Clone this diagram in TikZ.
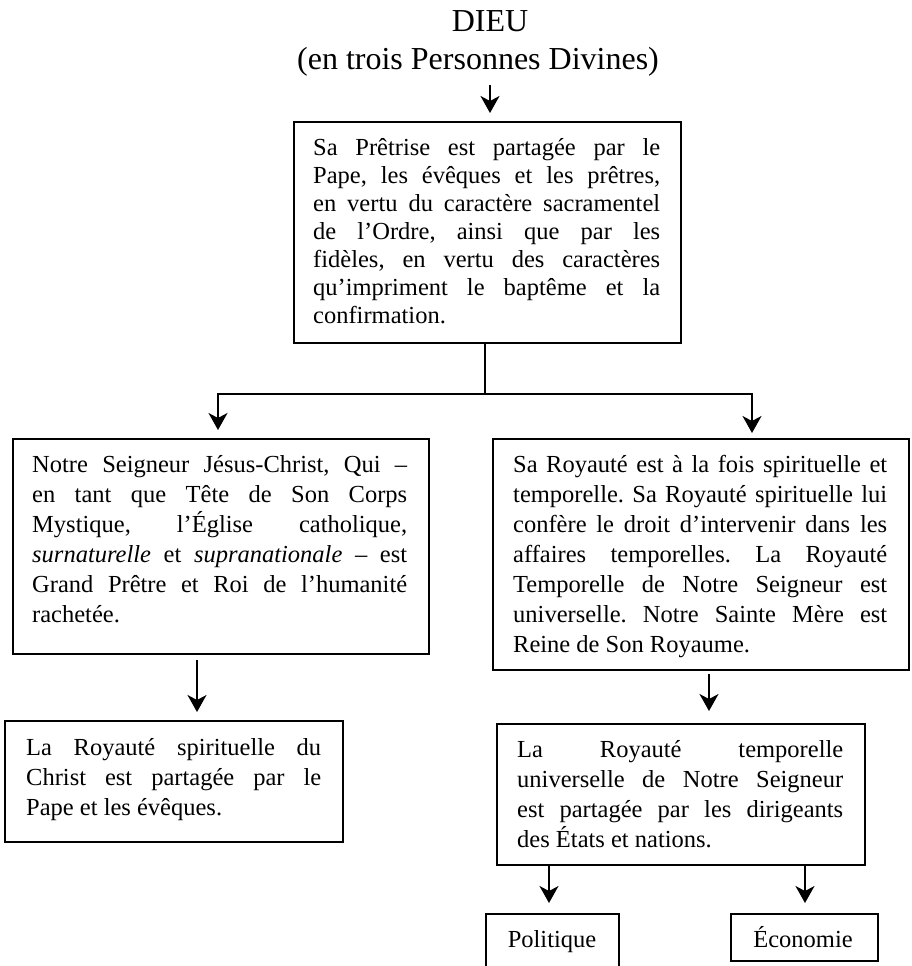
\documentclass[tikz,border=0pt]{standalone}
\usepackage{fontspec}
\setmainfont{Liberation Serif}
\usetikzlibrary{arrows.meta}
\frenchspacing
\newcommand{\bodyfont}{\fontsize{24.5}{30}\selectfont\frenchspacing\hyphenpenalty=10000\tolerance=9999\emergencystretch=0pt}
\tikzset{
 boxnode/.style={draw, line width=2pt, inner sep=0pt, anchor=north west},
 txt/.style={inner sep=0pt, anchor=north west, align=justify, font=\bodyfont},
 title/.style={inner sep=0pt, anchor=base, font=\fontsize{32}{38}\selectfont},
 leaf/.style={inner sep=0pt, anchor=base, font=\bodyfont},
 arr/.style={line width=1.8pt, -{Stealth[length=17pt,width=19pt,inset=5pt]}},
 ln/.style={line width=1.8pt}
}
\begin{document}
\begin{tikzpicture}[x=1pt,y=-1pt]
\useasboundingbox (0,0) rectangle (912,966);
\clip (0,0) rectangle (912,966);
% titles
\node[title] (dieu) at (490,32) {DIEU};
\node[title] (sub) at (478,70) {(en trois Personnes Divines)};
% boxes
\node[boxnode, minimum width=387pt, minimum height=221pt] (top) at (293,121) {};
\node[boxnode, minimum width=416pt, minimum height=215pt] (left) at (12,438) {};
\node[boxnode, minimum width=416pt, minimum height=231pt] (right) at (492,438) {};
\node[boxnode, minimum width=338pt, minimum height=121pt] (botl) at (4,720) {};
\node[boxnode, minimum width=368pt, minimum height=141pt] (botr) at (496,723) {};
\node[boxnode, minimum width=133pt, minimum height=70pt] (pol) at (485,913) {};
\node[boxnode, minimum width=147pt, minimum height=47pt] (eco) at (730,913) {};
% texts
\node[txt, text width=347pt, font=\fontsize{24.5}{28}\selectfont] (toptxt) at (313,138)
 {Sa Prêtrise est partagée par le\linebreak Pape, les évêques et les prêtres,\linebreak en vertu du caractère sacramentel\linebreak de l’Ordre, ainsi que par les\linebreak fidèles, en vertu des caractères\linebreak qu’impriment le baptême et la\linebreak confirmation.};
\node[txt, text width=375pt] (lefttxt) at (32,455)
 {Notre Seigneur Jésus-Christ, Qui –\linebreak en tant que Tête de Son Corps\linebreak Mystique, l’Église catholique,\linebreak \textit{surnaturelle} et \textit{supranationale} – est\linebreak Grand Prêtre et Roi de l’humanité\linebreak rachetée.};
\node[txt, text width=374pt] (righttxt) at (513,455)
 {Sa Royauté est à la fois spirituelle et\linebreak temporelle. Sa Royauté spirituelle lui\linebreak confère le droit d’intervenir dans les\linebreak affaires temporelles. La Royauté\linebreak Temporelle de Notre Seigneur est\linebreak universelle. Notre Sainte Mère est\linebreak Reine de Son Royaume.};
\node[txt, text width=295pt] (botltxt) at (26,738)
 {La Royauté spirituelle du\linebreak Christ est partagée par le\linebreak Pape et les évêques.};
\node[txt, text width=326pt] (botrtxt) at (517,740)
 {La Royauté temporelle\linebreak universelle de Notre Seigneur\linebreak est partagée par les dirigeants\linebreak des États et nations.};
\node[leaf] (poltxt) at (552,947) {Politique};
\node[leaf] (ecotxt) at (803,947) {Économie};
% connectors
\coordinate (a0) at (490,85);
\draw[arr, shorten >=8pt] (a0) -- (a0 |- top.north);
\coordinate (j) at (485,394);
\coordinate (jl) at (218,394);
\coordinate (jr) at (752,394);
\draw[ln] (top.south -| j) -- (j);
\draw[arr, shorten >=8pt] (j) -| (jl |- left.north);
\draw[arr, shorten >=5pt] (j) -| (jr |- right.north);
\coordinate (b1) at (197,0);
\draw[arr, shorten <=5pt, shorten >=8pt] (b1 |- left.south) -- (b1 |- botl.north);
\coordinate (b2) at (709,0);
\draw[arr, shorten <=3pt, shorten >=12pt] (b2 |- right.south) -- (b2 |- botr.north);
\coordinate (c1) at (549,0);
\coordinate (c2) at (805,0);
\draw[arr, shorten >=10pt] (c1 |- botr.south) -- (c1 |- pol.north);
\draw[arr, shorten >=10pt] (c2 |- botr.south) -- (c2 |- eco.north);
\end{tikzpicture}
\end{document}
